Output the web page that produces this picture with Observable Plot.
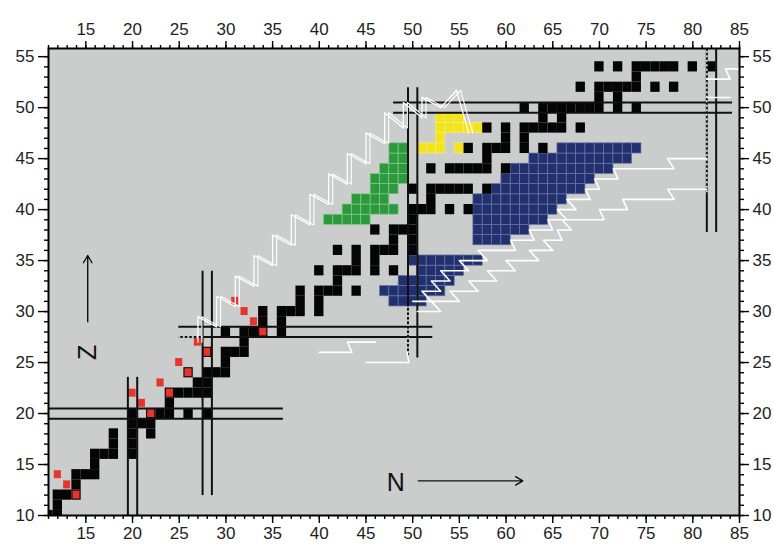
<!DOCTYPE html>
<html><head><meta charset="utf-8">
<script src="https://cdn.jsdelivr.net/npm/d3@7"></script>
<script src="https://cdn.jsdelivr.net/npm/@observablehq/plot@0.6"></script>
<style>
body{margin:0;background:#fff;}
#chart{position:absolute;left:0;top:0;}
</style></head><body><div id="chart"></div>
<script>
// ---- data ----
// stable nuclei (black): proton number and the neutron numbers
const stableZ = [10,11,12,13,14,15,16,17,18,19,20,21,22,23,24,25,26,27,28,29,30,31,32,33,34,35,36,37,38,39,40,41,42,44,45,46,47,48,49,50,51,52,53,54];
const stableN = [[10,11,12],[12],[12,13,14],[14],[14,15,16],[16],[16,17,18,20],[18,20],[18,20,22],[20,21,22],
  [20,22,23,24,26,28],[24],[24,25,26,27,28],[27,28],[26,28,29,30],[30],[28,30,31,32],[32],[30,32,33,34,36],[34,36],
  [34,36,37,38,40],[38,40],[38,40,41,42,44],[42],[40,42,43,44,46,48],[44,46],[42,44,46,47,48,50],[48,50],[46,48,49,50],[50],
  [50,51,52,54,56],[52],[50,52,53,54,55,56,58],[52,54,55,56,57,58,60],[58],[56,58,59,60,62,64],[60,62],
  [58,60,62,63,64,65,66,68],[64,66],[62,64,65,66,67,68,69,70,72,74],[70,72],[68,70,71,72,73,74,76,78],[74],[70,72,74,75,76,77,78,80,82]];
// red nuclei
const redN = [12,13,14,20,21,22,23,24,25,26,27,28,31,32,33,34];
const redZ = [14,13,12,22,21,20,23,22,25,24,27,26,31,30,29,28];
// green rows
const greenZ = [39,40,41,42,43,44,45,46];
const greenFrom = [41,43,44,46,46,47,48,48];
const greenTo = [45,48,47,48,49,49,49,49];
// yellow rows
const yellowZ = [46,46,47,48,49];
const yellowFrom = [51,55,53,53,53];
const yellowTo = [53,55,53,57,55];
// blue rows
const blueZ = [31,32,33,34,35,37,38,39,40,41,42,43,44,45,46];
const blueFrom = [48,47,49,51,50,57,57,57,57,57,59,60,61,63,66];
const blueTo = [51,53,54,55,57,60,62,64,65,66,68,69,71,73,74];
// magic-number double lines
const magicVN = [19.5,20.5,27.5,28.5,49.5,50.5,81.5,82.5];
const magicVZ1 = [10,10,12,12,25.5,25.5,37.8,37.8];
const magicVZ2 = [23.6,23.6,34,34,52,52,55.8,55.8];
const magicHZ = [19.5,20.5,27.5,28.5,49.5,50.5];
const magicHN1 = [11,11,24.9,24.9,47.9,47.9];
const magicHN2 = [36.1,36.1,52.1,52.1,84.2,84.2];
// dotted parts of the lines
const dotN1 = [49.5,81.5,24.9];
const dotZ1 = [25.5,41.7,27.5];
const dotN2 = [49.5,81.5,27.5];
const dotZ2 = [30.5,55.8,27.5];
// white paths
const rpN = [27,27,29,29,31,31,33,33,35,35,37,37,39,39,41,41,43,43,45,45,47,47,49,49,51,51,53,54.7,56];
const rpZ = [27,29.5,28.5,31.5,30.5,33.5,32.5,35.5,34.5,37.5,36.5,39.5,38.5,41.5,40.5,43.5,42.5,45.5,44.5,47.5,46.5,49.5,48,50.5,49,51,50,51.7,47.5];
const upN = [50,52,51,53,52,54,53,56,55,58,57,61,60.5,63,62.5,65,64.5,66.5,65.5,67.5,66.5,69,68.5,70,69.5,72,71.5,78,77.3,81.5];
const upZ = [31,31,32,32,33,33,34,34,35,35,36,36,37,37,38,38,39,39,40,40,41,41,42,42,43,43,44,44,45,45];
const loN = [50.5,53,52,55,54,57,56,59,58,61,60,63.5,62.5,65,64,66,65.5,67,66,70.5,70,73,72.5,78,77.3,81.5];
const loZ = [30,30,31,31,32,32,33,33,34,34,35,35,36,36,37,37,38,38,39,39,40,40,41,41,42,42];
const w1N = [40,43.5,43,46];
const w1Z = [26,26,27,27];
const w2N = [45,49.6,49.4];
const w2Z = [25,25,26];
const w3N = [81.5,84,83.5,85];
const w3Z = [52.8,52.8,53.8,53.8];
const w4N = [81.5,84];
const w4Z = [51,51];
// annotations
const labelText = ["N","Z"];
const labelN = [48.2,15.2];
const labelZ = [13.2,26];
const labelRot = [0,-90];
const arrowN1 = [50.6,15.2], arrowZ1 = [13.4,29];
const arrowN2 = [61.8,15.2], arrowZ2 = [13.4,35.5];
// ticks
const majorX = [15,20,25,30,35,40,45,50,55,60,65,70,75,80,85];
const majorY = [10,15,20,25,30,35,40,45,50,55];
const minorX = d3.range(11,86);
const minorY = d3.range(10,56);

// ---- build ----
const black = stableZ.flatMap((z,i) => stableN[i].map(n => ({n, z})));
const runs = (zs, a, b) => zs.flatMap((z,i) => d3.range(a[i], b[i]+1).map(n => ({n, z})));
const green = runs(greenZ, greenFrom, greenTo);
const yellow = runs(yellowZ, yellowFrom, yellowTo);
const blue = runs(blueZ, blueFrom, blueTo);
const red = redN.map((n,i) => ({n, z: redZ[i]}));
const vLines = magicVN.map((n,i) => ({n1:n, n2:n, z1:magicVZ1[i], z2:magicVZ2[i]}));
const hLines = magicHZ.map((z,i) => ({n1:magicHN1[i], n2:magicHN2[i], z1:z, z2:z}));
const dots = dotN1.map((n,i) => ({n1:n, z1:dotZ1[i], n2:dotN2[i], z2:dotZ2[i]}));
const mkPath = (id, ns, zs) => ns.map((n,i) => ({id, n, z: zs[i]}));
const rp = mkPath("rp", rpN, rpZ);
const paths = [...mkPath("up", upN, upZ), ...mkPath("lo", loN, loZ), ...mkPath("w1", w1N, w1Z),
  ...mkPath("w2", w2N, w2Z), ...mkPath("w3", w3N, w3Z), ...mkPath("w4", w4N, w4Z)];
const labels = labelText.map((t,i) => ({t, n: labelN[i], z: labelZ[i], r: labelRot[i]}));
const arrows = arrowN1.map((n,i) => ({n1:n, z1:arrowZ1[i], n2:arrowN2[i], z2:arrowZ2[i]}));

const cell = {x1: d => d.n - 0.5, x2: d => d.n + 0.5, y1: d => d.z - 0.5, y2: d => d.z + 0.5, clip: true};
const font = "Liberation Sans, Arial, sans-serif";
const axisCommon = {label: null, stroke: "black", strokeWidth: 1.4, fill: "#222", fontSize: 17};

const chart = Plot.plot({
  width: 774, height: 546,
  marginLeft: 48, marginRight: 35, marginTop: 48, marginBottom: 31,
  x: {domain: [11, 85]},
  y: {domain: [10, 55.8]},
  style: {fontFamily: font, background: "white", overflow: "visible"},
  marks: [
    Plot.frame({fill: "#cbcccc"}),
    Plot.rect(blue, {...cell, fill: "#22306e", stroke: "#6676aa", strokeWidth: 0.7}),
    Plot.rect(green, {...cell, fill: "#2c9a3c", stroke: "#86c890", strokeWidth: 0.7}),
    Plot.rect(yellow, {...cell, fill: "#f2e31c", stroke: "#f7ee80", strokeWidth: 0.6}),
    Plot.rect(black, {...cell, fill: "#050505"}),
    Plot.rect(red, {...cell, fill: "#e5352e", inset: 1.1}),
    Plot.link([...vLines, ...hLines], {x1: "n1", y1: "z1", x2: "n2", y2: "z2", stroke: "#111", strokeWidth: 2, clip: true}),
    Plot.link(dots, {x1: "n1", y1: "z1", x2: "n2", y2: "z2", stroke: "white", strokeWidth: 1.4, strokeDasharray: "2,2.5", clip: true}),
    Plot.line(rp, {x: "n", y: "z", stroke: "white", strokeWidth: 1.3, clip: true}),
    Plot.line(rp, {x: "n", y: "z", stroke: "white", strokeWidth: 1.1, dx: 4, clip: true}),
    Plot.line(paths, {x: "n", y: "z", z: "id", stroke: "white", strokeWidth: 1.6, clip: true}),
    Plot.arrow(arrows, {x1: "n1", y1: "z1", x2: "n2", y2: "z2", stroke: "#111", strokeWidth: 1.4, headLength: 9}),
    Plot.text(labels, {x: "n", y: "z", text: "t", rotate: "r", fontSize: 25, fill: "#111", fontFamily: font}),
    Plot.frame({stroke: "black", strokeWidth: 2}),
    Plot.axisX({...axisCommon, anchor: "bottom", ticks: majorX, tickSize: 8, tickPadding: 3}),
    Plot.axisX({...axisCommon, anchor: "bottom", ticks: minorX, tickSize: 4, tickFormat: () => ""}),
    Plot.axisX({...axisCommon, anchor: "top", ticks: majorX, tickSize: 8, tickPadding: 6}),
    Plot.axisX({...axisCommon, anchor: "top", ticks: minorX, tickSize: 4, tickFormat: () => ""}),
    Plot.axisY({...axisCommon, anchor: "left", ticks: majorY, tickSize: 10, tickPadding: 4}),
    Plot.axisY({...axisCommon, anchor: "left", ticks: minorY, tickSize: 4, tickFormat: () => ""}),
    Plot.axisY({...axisCommon, anchor: "right", ticks: majorY, tickSize: 9, tickPadding: 4}),
    Plot.axisY({...axisCommon, anchor: "right", ticks: minorY, tickSize: 4, tickFormat: () => ""})
  ]
});
document.getElementById("chart").appendChild(chart);
</script></body></html>
